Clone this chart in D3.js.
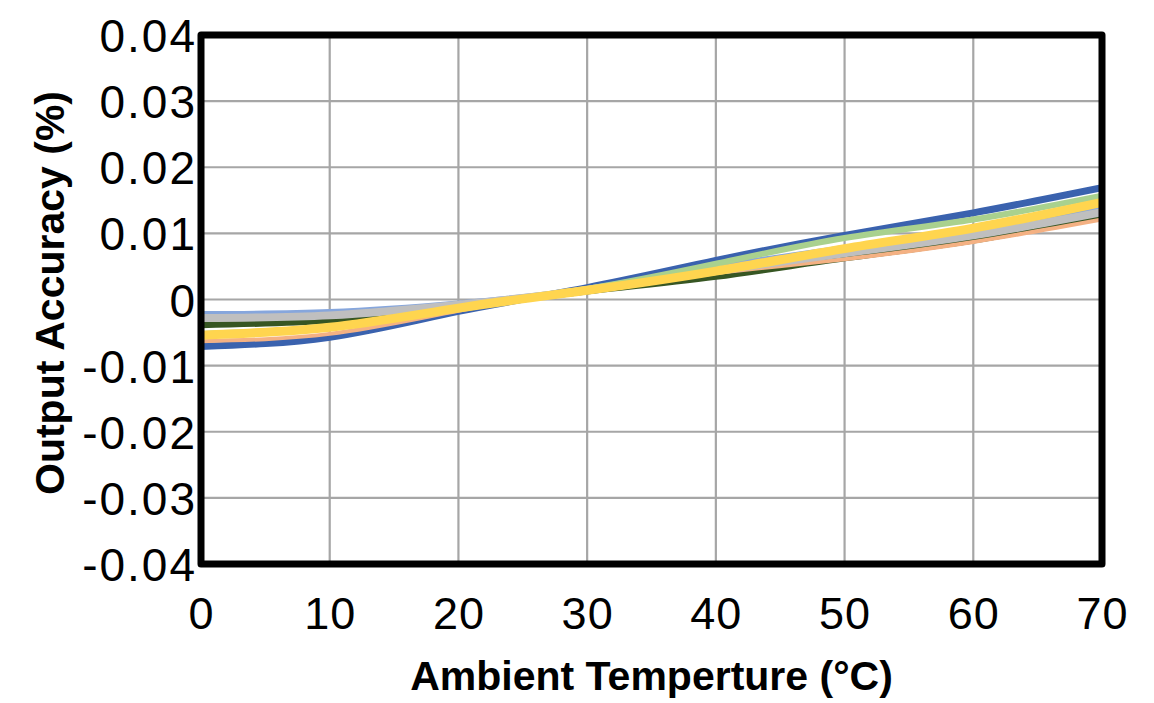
<!DOCTYPE html>
<html><head><meta charset="utf-8">
<script src="https://cdn.jsdelivr.net/npm/d3@7"></script>
<style>body{margin:0;background:#fff;} svg{display:block;font-family:"Liberation Sans",Arial,sans-serif;}</style>
</head><body>
<svg id="c" width="1154" height="703"></svg>
<script>
const temps = [0, 10, 20, 30, 40, 50, 60, 70];
const xTicks = [0, 10, 20, 30, 40, 50, 60, 70];
const yTicks = [-0.04, -0.03, -0.02, -0.01, 0, 0.01, 0.02, 0.03, 0.04];
const yTickLabels = ["-0.04", "-0.03", "-0.02", "-0.01", "0", "0.01", "0.02", "0.03", "0.04"];
const seriesNames = ["Unit 1", "Unit 2", "Unit 5", "Unit 3", "Unit 4", "Unit 6", "Unit 7"];
const seriesColors = ["#3A62AE", "#86A6DC", "#375623", "#F4B183", "#BFBFBF", "#A9D18E", "#FFD54F"];
const unit1 = [-0.0071, -0.0057, -0.0018, 0.0018, 0.0059, 0.0097, 0.0131, 0.0169];
const unit2 = [-0.0022, -0.0019, -0.0006, 0.0016, 0.0049, 0.0078, 0.0107, 0.0140];
const unit5 = [-0.0038, -0.0031, -0.0010, 0.0013, 0.0035, 0.0063, 0.0090, 0.0127];
const unit3 = [-0.0063, -0.0052, -0.0017, 0.0015, 0.0040, 0.0061, 0.0087, 0.0121];
const unit4 = [-0.0028, -0.0024, -0.0008, 0.0014, 0.0043, 0.0070, 0.0097, 0.0132];
const unit6 = [-0.0052, -0.0041, -0.0012, 0.0016, 0.0054, 0.0093, 0.0121, 0.0157];
const unit7 = [-0.0054, -0.0042, -0.0013, 0.0014, 0.0043, 0.0077, 0.0108, 0.0147];
const seriesValues = [unit1, unit2, unit5, unit3, unit4, unit6, unit7];
const seriesWidths = [7, 6, 7, 4, 8, 6, 9];

const svg = d3.select("#c");
const L = 201, R = 1102, T = 35, B = 564;
const x = d3.scaleLinear().domain([0, 70]).range([L, R]);
const y = d3.scaleLinear().domain([-0.04, 0.04]).range([B, T]);

// grid
const g = svg.append("g");
g.selectAll(".vg").data(xTicks).join("line")
  .attr("x1", d => x(d)).attr("x2", d => x(d)).attr("y1", T).attr("y2", B)
  .attr("stroke", "#A6A6A6").attr("stroke-width", 2.2);
g.selectAll(".hg").data(yTicks).join("line")
  .attr("y1", d => y(d)).attr("y2", d => y(d)).attr("x1", L).attr("x2", R)
  .attr("stroke", "#A6A6A6").attr("stroke-width", 2.2);

// lines
svg.append("clipPath").attr("id", "pc").append("rect")
  .attr("x", L).attr("y", T).attr("width", R - L).attr("height", B - T);
const line = d3.line().x((d, i) => x(temps[i])).y(d => y(d)).curve(d3.curveNatural);
svg.append("g").attr("clip-path", "url(#pc)")
  .selectAll("path").data(seriesValues).join("path")
  .attr("d", d => line(d))
  .attr("fill", "none")
  .attr("stroke", (d, i) => seriesColors[i])
  .attr("stroke-width", (d, i) => seriesWidths[i])
  .attr("stroke-linecap", "butt");

// border
svg.append("rect").attr("x", L).attr("y", T).attr("width", R - L).attr("height", B - T)
  .attr("fill", "none").attr("stroke", "#000").attr("stroke-width", 7).attr("stroke-linejoin", "round");

// axes
const xAxis = d3.axisBottom(x).tickValues(xTicks).tickSize(0).tickPadding(0);
const xa = svg.append("g").attr("transform", `translate(0,${B})`).call(xAxis);
xa.select(".domain").remove();
xa.selectAll("text").attr("font-size", 45).attr("fill", "#000")
  .attr("font-family", "Liberation Sans, Arial, sans-serif").attr("dy", null).attr("y", 65)
  .attr("letter-spacing", "1px");

const yAxis = d3.axisLeft(y).tickValues(yTicks).tickSize(0).tickPadding(0)
  .tickFormat((d, i) => yTickLabels[i]);
const ya = svg.append("g").attr("transform", `translate(${L},0)`).call(yAxis);
ya.select(".domain").remove();
ya.selectAll("text").attr("font-size", 46).attr("fill", "#000")
  .attr("font-family", "Liberation Sans, Arial, sans-serif").attr("x", -4).attr("dy", "0.36em")
  .attr("letter-spacing", "2px");

// titles
svg.append("text").attr("x", (L + R) / 2).attr("y", 690).attr("text-anchor", "middle")
  .attr("font-size", 41).attr("font-weight", "bold").text("Ambient Temperture (°C)");
svg.append("text").attr("transform", "translate(64,293) rotate(-90)").attr("text-anchor", "middle")
  .attr("font-size", 41).attr("font-weight", "bold").text("Output Accuracy (%)");
</script>
</body></html>
